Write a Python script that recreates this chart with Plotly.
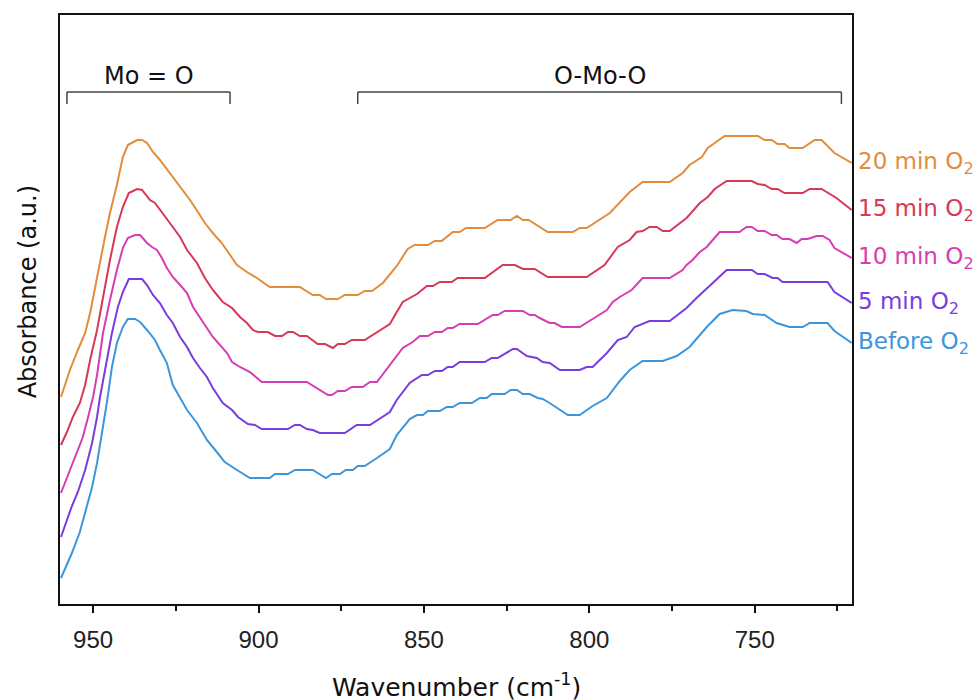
import plotly.graph_objects as go

# ---------------- data (wavenumber cm^-1, absorbance a.u.) ----------------
wn_before = [959.7, 956.4, 954.0, 952.4, 950.3, 948.8, 947.3, 945.8, 944.3, 942.8, 941.0, 939.5, 937.3, 935.8,
             933.7, 931.3, 929.8, 927.7, 925.9, 922.8, 921.6, 918.6, 915.6, 912.6, 910.2, 906.5, 902.6, 896.6,
             895.0, 891.1, 889.0, 883.6, 879.6, 877.8, 875.4, 873.6, 871.5, 870.0, 867.9, 864.2, 860.3, 858.2,
             854.3, 852.1, 850.3, 848.8, 845.2, 843.1, 841.3, 839.2, 835.5, 833.1, 831.0, 829.5, 825.6, 823.8,
             821.9, 820.1, 818.0, 815.6, 814.1, 812.0, 808.9, 806.5, 802.9, 799.0, 794.7, 790.8, 787.8, 783.9,
             777.8, 773.6, 769.7, 764.5, 760.6, 756.7, 752.5, 750.6, 747.0, 743.4, 739.5, 735.5, 733.4, 728.0,
             725.9, 720.7]
abs_before = [0.26, 0.51, 0.72, 0.92, 1.17, 1.41, 1.71, 2.02, 2.37, 2.61, 2.77, 2.85, 2.85, 2.82,
              2.74, 2.64, 2.54, 2.41, 2.19, 2.02, 1.94, 1.81, 1.64, 1.52, 1.42, 1.34, 1.26, 1.26,
              1.30, 1.30, 1.34, 1.34, 1.26, 1.30, 1.30, 1.34, 1.34, 1.38, 1.38, 1.46, 1.55, 1.69,
              1.85, 1.89, 1.89, 1.93, 1.93, 1.97, 1.97, 2.01, 2.01, 2.06, 2.06, 2.10, 2.10, 2.14,
              2.14, 2.10, 2.10, 2.06, 2.05, 2.01, 1.94, 1.89, 1.89, 1.98, 2.06, 2.23, 2.34, 2.43,
              2.43, 2.48, 2.57, 2.77, 2.90, 2.94, 2.93, 2.90, 2.89, 2.81, 2.77, 2.77, 2.81, 2.81,
              2.73, 2.61]

wn_5min = [959.7, 957.9, 956.4, 954.6, 952.4, 950.3, 948.8, 947.9, 945.8, 944.3, 942.5, 941.0, 939.2, 935.2,
           933.7, 931.9, 929.8, 927.7, 925.9, 923.7, 921.6, 919.8, 917.7, 915.6, 913.8, 910.8, 908.0, 906.2,
           903.2, 901.1, 899.0, 891.1, 889.0, 887.5, 885.4, 883.6, 881.5, 873.9, 870.3, 866.3, 860.3, 858.2,
           854.3, 850.6, 848.8, 846.7, 844.6, 842.8, 841.3, 839.2, 831.6, 829.5, 827.7, 823.1, 821.9, 818.9,
           815.9, 814.1, 812.0, 808.9, 802.9, 800.8, 799.0, 794.7, 791.4, 788.7, 786.3, 783.9, 781.8, 775.7,
           770.6, 767.6, 764.5, 762.7, 758.5, 750.9, 749.1, 747.0, 744.6, 743.1, 741.6, 728.0, 725.9, 720.7]
abs_5min = [0.67, 0.84, 0.98, 1.12, 1.34, 1.61, 1.87, 2.07, 2.44, 2.71, 2.97, 3.12, 3.25, 3.25,
            3.19, 3.09, 3.01, 2.89, 2.81, 2.67, 2.57, 2.46, 2.36, 2.27, 2.16, 2.01, 1.94, 1.87,
            1.80, 1.79, 1.75, 1.75, 1.79, 1.79, 1.75, 1.74, 1.71, 1.71, 1.79, 1.79, 1.92, 2.04,
            2.21, 2.29, 2.29, 2.33, 2.33, 2.37, 2.37, 2.42, 2.42, 2.46, 2.46, 2.55, 2.55, 2.48,
            2.46, 2.42, 2.41, 2.34, 2.34, 2.37, 2.37, 2.51, 2.64, 2.67, 2.77, 2.80, 2.83, 2.83,
            2.96, 3.06, 3.16, 3.21, 3.34, 3.34, 3.30, 3.30, 3.26, 3.26, 3.22, 3.22, 3.12, 3.01]

wn_10min = [959.7, 957.9, 956.4, 954.6, 953.1, 951.5, 950.0, 948.8, 947.0, 944.9, 942.8, 941.0, 939.5, 937.3,
            935.8, 933.7, 932.2, 930.7, 929.2, 927.7, 925.9, 923.7, 921.6, 919.8, 917.7, 915.6, 913.8, 911.7,
            909.5, 908.0, 905.6, 902.6, 899.0, 885.4, 882.4, 879.0, 877.8, 876.0, 873.9, 871.8, 868.5, 866.3,
            864.2, 860.3, 856.4, 853.4, 851.2, 848.8, 846.7, 844.6, 842.8, 841.3, 839.2, 833.7, 831.0, 829.2,
            827.7, 825.6, 820.1, 818.0, 816.5, 815.0, 812.0, 810.5, 808.3, 802.9, 799.0, 794.7, 792.9, 790.8,
            787.2, 785.7, 783.9, 775.7, 771.8, 770.6, 768.8, 766.6, 764.5, 762.7, 760.6, 754.6, 752.5, 750.9,
            749.1, 747.0, 744.9, 743.4, 741.6, 739.5, 737.3, 735.8, 734.0, 731.3, 729.5, 727.4, 725.9, 720.7]
abs_10min = [1.11, 1.27, 1.39, 1.54, 1.67, 1.87, 2.07, 2.29, 2.71, 3.04, 3.34, 3.56, 3.66, 3.69,
             3.69, 3.61, 3.57, 3.54, 3.46, 3.36, 3.27, 3.19, 3.11, 2.97, 2.87, 2.76, 2.67, 2.59,
             2.51, 2.42, 2.37, 2.32, 2.22, 2.22, 2.16, 2.09, 2.09, 2.13, 2.13, 2.17, 2.17, 2.22,
             2.22, 2.39, 2.56, 2.62, 2.68, 2.68, 2.72, 2.72, 2.76, 2.76, 2.80, 2.80, 2.85, 2.89,
             2.89, 2.93, 2.93, 2.89, 2.89, 2.86, 2.81, 2.81, 2.77, 2.77, 2.85, 2.94, 3.02, 3.07,
             3.14, 3.19, 3.26, 3.26, 3.34, 3.39, 3.44, 3.52, 3.57, 3.64, 3.72, 3.72, 3.77, 3.77,
             3.73, 3.73, 3.69, 3.69, 3.65, 3.65, 3.61, 3.65, 3.65, 3.68, 3.68, 3.64, 3.56, 3.46]

wn_15min = [959.7, 957.9, 956.1, 954.0, 952.4, 950.9, 948.8, 947.0, 944.9, 942.8, 941.0, 939.2, 936.7, 935.2,
            933.7, 932.8, 931.3, 929.2, 926.8, 923.7, 921.6, 918.6, 916.2, 913.8, 910.8, 908.0, 905.6, 903.5,
            901.7, 900.2, 897.2, 895.0, 892.9, 891.1, 889.6, 887.5, 885.4, 882.1, 879.9, 877.5, 876.0, 873.9,
            871.8, 867.9, 863.9, 860.3, 858.2, 856.4, 852.1, 849.1, 847.3, 845.2, 841.6, 839.8, 831.6, 826.2,
            822.5, 820.1, 816.5, 812.6, 800.8, 795.4, 791.4, 787.8, 785.7, 783.9, 781.8, 779.6, 777.8, 775.7,
            770.6, 766.6, 764.2, 762.1, 758.5, 750.9, 749.1, 747.0, 744.9, 743.1, 741.0, 735.5, 733.4, 729.8,
            725.3, 720.7]
abs_15min = [1.59, 1.72, 1.87, 2.01, 2.19, 2.44, 2.74, 3.07, 3.44, 3.77, 3.97, 4.11, 4.15, 4.14,
             4.07, 4.04, 4.01, 3.92, 3.81, 3.67, 3.54, 3.41, 3.26, 3.14, 3.02, 2.96, 2.87, 2.81,
             2.74, 2.72, 2.72, 2.68, 2.68, 2.72, 2.72, 2.68, 2.68, 2.60, 2.60, 2.56, 2.60, 2.60,
             2.64, 2.64, 2.72, 2.80, 2.92, 3.02, 3.10, 3.18, 3.18, 3.22, 3.22, 3.26, 3.26, 3.39,
             3.39, 3.35, 3.35, 3.27, 3.27, 3.39, 3.57, 3.64, 3.72, 3.73, 3.77, 3.77, 3.73, 3.73,
             3.86, 4.01, 4.07, 4.15, 4.23, 4.23, 4.20, 4.19, 4.15, 4.15, 4.11, 4.11, 4.15, 4.15,
             4.06, 3.94]

wn_20min = [959.7, 957.0, 954.6, 952.4, 950.9, 949.4, 947.9, 946.4, 944.9, 942.8, 941.0, 939.5, 936.7, 935.2,
            933.7, 931.9, 929.8, 926.8, 923.7, 920.7, 918.3, 916.2, 913.8, 911.1, 908.6, 906.5, 903.5, 900.5,
            896.6, 887.5, 883.6, 881.5, 879.6, 876.0, 873.9, 870.0, 867.9, 865.7, 862.4, 858.2, 854.9, 852.8,
            848.8, 846.7, 844.6, 841.3, 839.2, 837.3, 831.6, 827.7, 823.8, 821.9, 820.1, 818.3, 812.6, 805.0,
            802.9, 800.8, 793.8, 791.4, 787.8, 783.9, 775.7, 771.8, 769.7, 766.0, 764.2, 759.1, 749.1, 747.0,
            744.9, 743.1, 741.0, 739.5, 735.5, 731.9, 729.8, 725.9, 720.7]
abs_20min = [2.07, 2.34, 2.54, 2.71, 2.91, 3.17, 3.44, 3.67, 3.91, 4.19, 4.47, 4.59, 4.64, 4.64,
             4.61, 4.52, 4.44, 4.31, 4.17, 4.04, 3.92, 3.81, 3.71, 3.61, 3.49, 3.39, 3.32, 3.26,
             3.17, 3.17, 3.09, 3.09, 3.05, 3.05, 3.09, 3.09, 3.13, 3.13, 3.21, 3.38, 3.55, 3.59,
             3.59, 3.63, 3.63, 3.72, 3.72, 3.76, 3.76, 3.84, 3.84, 3.88, 3.84, 3.84, 3.72, 3.72,
             3.76, 3.76, 3.91, 3.99, 4.12, 4.22, 4.22, 4.31, 4.39, 4.47, 4.56, 4.68, 4.68, 4.64,
             4.64, 4.60, 4.60, 4.56, 4.56, 4.64, 4.64, 4.51, 4.41]

series_names = ["Before O<sub>2</sub>", "5 min O<sub>2</sub>", "10 min O<sub>2</sub>",
                "15 min O<sub>2</sub>", "20 min O<sub>2</sub>"]
series_colors = ["#3C96DC", "#7A3CDC", "#D63CB4", "#D63858", "#E28C3C"]
series_x = [wn_before, wn_5min, wn_10min, wn_15min, wn_20min]
series_y = [abs_before, abs_5min, abs_10min, abs_15min, abs_20min]

tick_vals = [950, 900, 850, 800, 750]
minor_vals = [925, 875, 825, 775, 725]

# band region brackets: (label, start wn, end wn)
bands = [("Mo = O", 957.9, 908.6), ("O-Mo-O", 870.0, 723.8)]
bracket_y = 5.12
bracket_drop = 0.12

x_range = [960.0, 720.6]
y_range = [0.0, 5.89]

# ---------------- figure ----------------
fig = go.Figure()
for name, col, xs, ys in zip(series_names, series_colors, series_x, series_y):
    fig.add_trace(go.Scatter(x=xs, y=ys, mode="lines", name=name,
                             line=dict(color=col, width=2), showlegend=False))
    fig.add_annotation(x=xs[-1], y=ys[-1], xref="x", yref="y", text=name,
                       showarrow=False, xanchor="left", yanchor="middle", xshift=4,
                       font=dict(family="DejaVu Sans", size=23, color=col))

for label, x0, x1 in bands:
    fig.add_shape(type="line", x0=x0, x1=x1, y0=bracket_y, y1=bracket_y, xref="x", yref="y",
                  line=dict(color="#444444", width=1.5))
    for xe in (x0, x1):
        fig.add_shape(type="line", x0=xe, x1=xe, y0=bracket_y, y1=bracket_y - bracket_drop,
                      xref="x", yref="y", line=dict(color="#444444", width=1.5))
    fig.add_annotation(x=(x0 + x1) / 2, y=bracket_y, xref="x", yref="y", text=label,
                       showarrow=False, yanchor="bottom", yshift=0,
                       font=dict(family="DejaVu Sans", size=24, color="#111111"))

fig.add_annotation(text="Absorbance (a.u.)", xref="paper", yref="paper", x=-0.041, y=0.53,
                   textangle=-90, showarrow=False, xanchor="center", yanchor="middle",
                   font=dict(family="DejaVu Sans", size=24, color="#111111"))
fig.add_annotation(text="Wavenumber (cm<sup>-1</sup>)", xref="paper", yref="paper", x=0.5, y=-0.139,
                   showarrow=False, xanchor="center", yanchor="middle",
                   font=dict(family="DejaVu Sans", size=25, color="#111111"))

fig.update_xaxes(range=x_range, tickvals=tick_vals, ticks="outside", ticklen=7, tickwidth=1.5,
                 tickcolor="#111111", showline=True, linecolor="#111111", linewidth=2, mirror=True,
                 showgrid=False, zeroline=False, ticklabelstandoff=6,
                 tickfont=dict(family="Liberation Sans", size=24, color="#222222"),
                 minor=dict(tickvals=minor_vals, ticks="outside", ticklen=5, tickwidth=1.5,
                            tickcolor="#111111", showgrid=False))
fig.update_yaxes(range=y_range, showticklabels=False, ticks="", showline=True, linecolor="#111111",
                 linewidth=2, mirror=True, showgrid=False, zeroline=False)

fig.update_layout(width=980, height=700, margin=dict(l=60, r=128, t=15, b=96),
                  plot_bgcolor="white", paper_bgcolor="white")

fig.write_html("out.html")
